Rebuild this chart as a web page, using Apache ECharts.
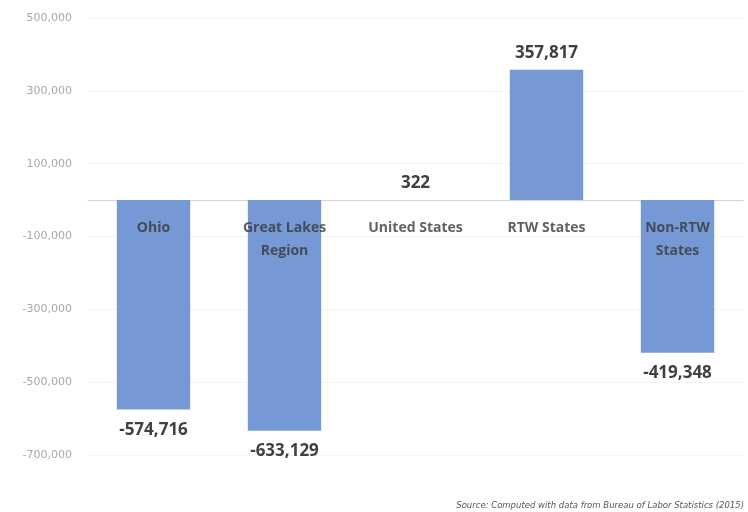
<!DOCTYPE html>
<html lang="en" style="height: 100%">

<head>
  <meta charset="utf-8">
</head>

<body style="height: 100%; margin: 0; background: #fff">
  <div id="container" style="height: 100%"></div>

  <script type="text/javascript" src="https://fastly.jsdelivr.net/npm/echarts@6/dist/echarts.min.js"></script>

  <script type="text/javascript">
    // employment change by region
    var categories = ['Ohio', 'Great Lakes\nRegion', 'United States', 'RTW States', 'Non-RTW\nStates'];
    var changes = [-574716, -633129, 322, 357817, -419348];
    var sourceNote = 'Source: Computed with data from Bureau of Labor Statistics (2015)';

    var dom = document.getElementById('container');
    var myChart = echarts.init(dom, null, { renderer: 'canvas' });

    var fmt = function (v) { return echarts.format.addCommas(v); };

    var option = {
      animation: false,
      grid: { left: 88, right: 5, top: 18, bottom: 57 },
      xAxis: {
        type: 'category',
        data: categories,
        axisTick: { show: false },
        axisLine: { onZero: true, lineStyle: { color: '#d4d4d4', width: 1 } },
        axisLabel: { show: false }
      },
      yAxis: {
        type: 'value',
        min: -700000,
        max: 500000,
        interval: 200000,
        axisLine: { show: false },
        axisTick: { show: false },
        splitLine: { lineStyle: { color: '#f3f3f3' } },
        axisLabel: {
          margin: 16,
          fontFamily: 'DejaVu Sans',
          fontSize: 11,
          color: '#a8a8a8',
          formatter: fmt
        }
      },
      series: [{
        type: 'bar',
        barWidth: '56%',
        itemStyle: { color: '#7699d5' },
        label: {
          show: true,
          fontFamily: 'Open Sans',
          fontWeight: 'bold',
          fontSize: 17,
          color: '#404040',
          formatter: function (p) { return fmt(p.value); }
        },
        data: changes.map(function (v) {
          return { value: v, label: { position: v < 0 ? 'bottom' : 'top', distance: v < 0 ? 12 : 8 } };
        })
      }, {
        // category names sit just under the zero line
        type: 'scatter',
        silent: true,
        symbolSize: 0,
        z: 5,
        label: {
          show: true,
          position: 'bottom',
          distance: 16,
          fontFamily: 'Open Sans',
          fontWeight: 'bold',
          fontSize: 14,
          lineHeight: 23,
          color: '#383838',
          formatter: function (p) { return categories[p.dataIndex]; }
        },
        data: categories.map(function () { return 0; })
      }],
      graphic: [{
        type: 'text',
        right: 4,
        bottom: 2,
        style: {
          text: sourceNote,
          fontFamily: 'DejaVu Sans',
          fontStyle: 'italic',
          fontSize: 8.5,
          fill: '#555'
        }
      }]
    };

    myChart.setOption(option);
    window.addEventListener('resize', myChart.resize);
  </script>
</body>

</html>
